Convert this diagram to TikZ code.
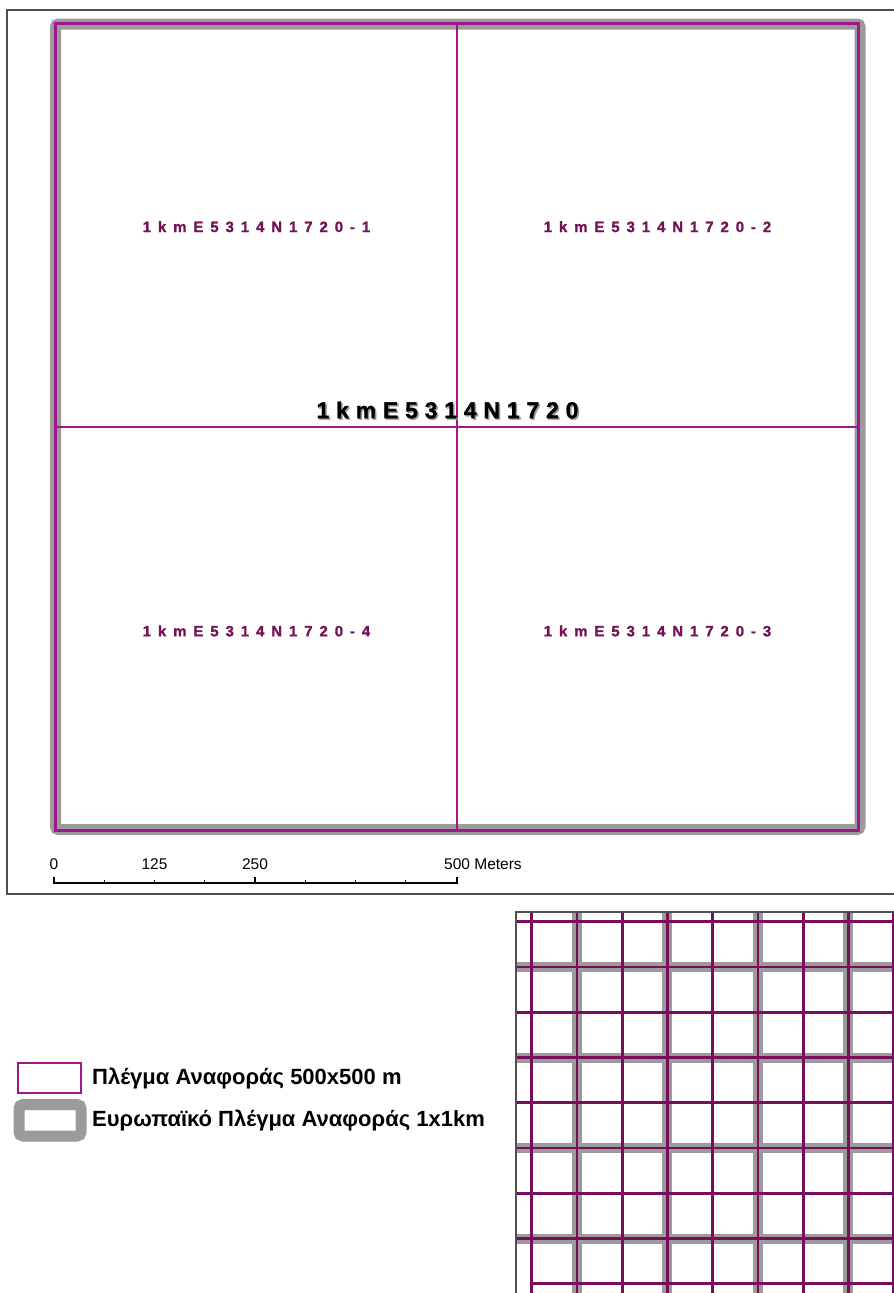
\documentclass[tikz,border=0pt]{standalone}
\usepackage{fontspec}
\setmainfont{Liberation Sans}
\newfontfamily\heavyfont[FakeBold=1.2]{Liberation Sans}
\definecolor{gridmag}{RGB}{160,22,140}
\definecolor{insetmag}{RGB}{122,12,92}
\definecolor{labmag}{RGB}{115,18,85}
\definecolor{kmgray}{RGB}{155,155,155}
\definecolor{framegray}{RGB}{80,80,80}
\ExplSyntaxOn
\NewDocumentCommand\spacedtext{m m}{\tl_map_inline:nn {#2} {##1\kern #1} \unkern}
\ExplSyntaxOff
\tikzset{
  quadlab/.style={inner sep=0pt, text=labmag, font=\fontsize{15}{15}\heavyfont\bfseries},
  centlab/.style={inner sep=0pt, font=\fontsize{23}{23}\heavyfont\bfseries},
  scalelab/.style={inner sep=0pt, font=\fontsize{15.5}{15.5}\selectfont},
  legtext/.style={inner sep=0pt, anchor=west, font=\fontsize{22}{22}\selectfont\bfseries},
  kmline/.style={kmgray, line width=11},
  magline/.style={gridmag, line width=3},
  insetmagline/.style={insetmag, line width=2.8},
  insetkm/.style={kmgray, line width=10},
}
\begin{document}
\begin{tikzpicture}[x=1pt,y=-1pt]
\useasboundingbox (0,0) rectangle (894,1293);
\fill[white] (0,0) rectangle (894,1293);
% main map frame
\draw[framegray, line width=1.5] (894,10) -- (7,10) -- (7,894) -- (894,894);
% 1km square
\draw[kmline, rounded corners=3] (55.5,24) rectangle (860,829.5);
\draw[magline] (55,23.5) rectangle (858.5,830);
\draw[gridmag, line width=2.2] (457,23.5) -- (457,830);
\draw[gridmag, line width=2.2] (55,427) -- (858.5,427);
% quadrant labels
\node[quadlab] (q1) at (256.5,226.7) {\spacedtext{6.9pt}{1kmE5314N1720-1}};
\node[quadlab] (q2) at (657.5,226.7) {\spacedtext{6.9pt}{1kmE5314N1720-2}};
\node[quadlab] (q4) at (256.5,631) {\spacedtext{6.9pt}{1kmE5314N1720-4}};
\node[quadlab] (q3) at (657.5,631) {\spacedtext{6.9pt}{1kmE5314N1720-3}};
% centre label with shadow
\node[centlab, text=black!40] (cshadow) at (449,411.5) {\spacedtext{6.8pt}{1kmE5314N1720}};
\node[centlab, text=black] (clab) at (447.5,410) {\spacedtext{6.8pt}{1kmE5314N1720}};
% scale bar
\draw[black, line width=1.2] (54,883) -- (457,883);
\foreach \x in {54,255,457} \draw[black, line width=1.2] (\x,877) -- (\x,883.6);
\foreach \x in {104.25,154.5,204.75,305.25,355.5,405.75} \draw[black, line width=1.2] (\x,879.5) -- (\x,883.6);
\node[scalelab] (s0) at (54,864) {0};
\node[scalelab] (s125) at (154.5,864) {125};
\node[scalelab] (s250) at (255,864) {250};
\node[scalelab, anchor=west] (s500) at (444,864) {500 Meters};
% inset map
\begin{scope}
\clip (516,912) rectangle (894,1293);
\fill[white] (516,912) rectangle (894,1293);
\foreach \v in {576.7,667.2,757.7,848.2} \draw[insetkm] (\v,912) -- (\v,1293);
\foreach \h in {967,1057.5,1148,1238.5} \draw[insetkm] (516,\h) -- (894,\h);
\foreach \i in {0,...,8} \draw[insetmagline] ({531.7+45.25*\i},912) -- ({531.7+45.25*\i},1293);
\foreach \i in {0,...,7} \draw[insetmagline] (516,{921.7+45.25*\i}) -- (894,{921.7+45.25*\i});
\draw[insetmagline] (531.7,1283.7) -- (894,1283.7);
\end{scope}
\draw[framegray, line width=1.3] (516,1293) -- (516,912) -- (894,912);
% legend
\draw[gridmag, line width=2.5] (18,1063) rectangle (81,1093);
\node[legtext] (l1) at (92,1079) {Πλέγμα Αναφοράς 500x500 m};
\draw[kmgray, line width=11, rounded corners=4] (19,1104.5) rectangle (81,1136);
\node[legtext] (l2) at (92,1121) {Ευρωπαϊκό Πλέγμα Αναφοράς 1x1km};
\end{tikzpicture}
\end{document}
